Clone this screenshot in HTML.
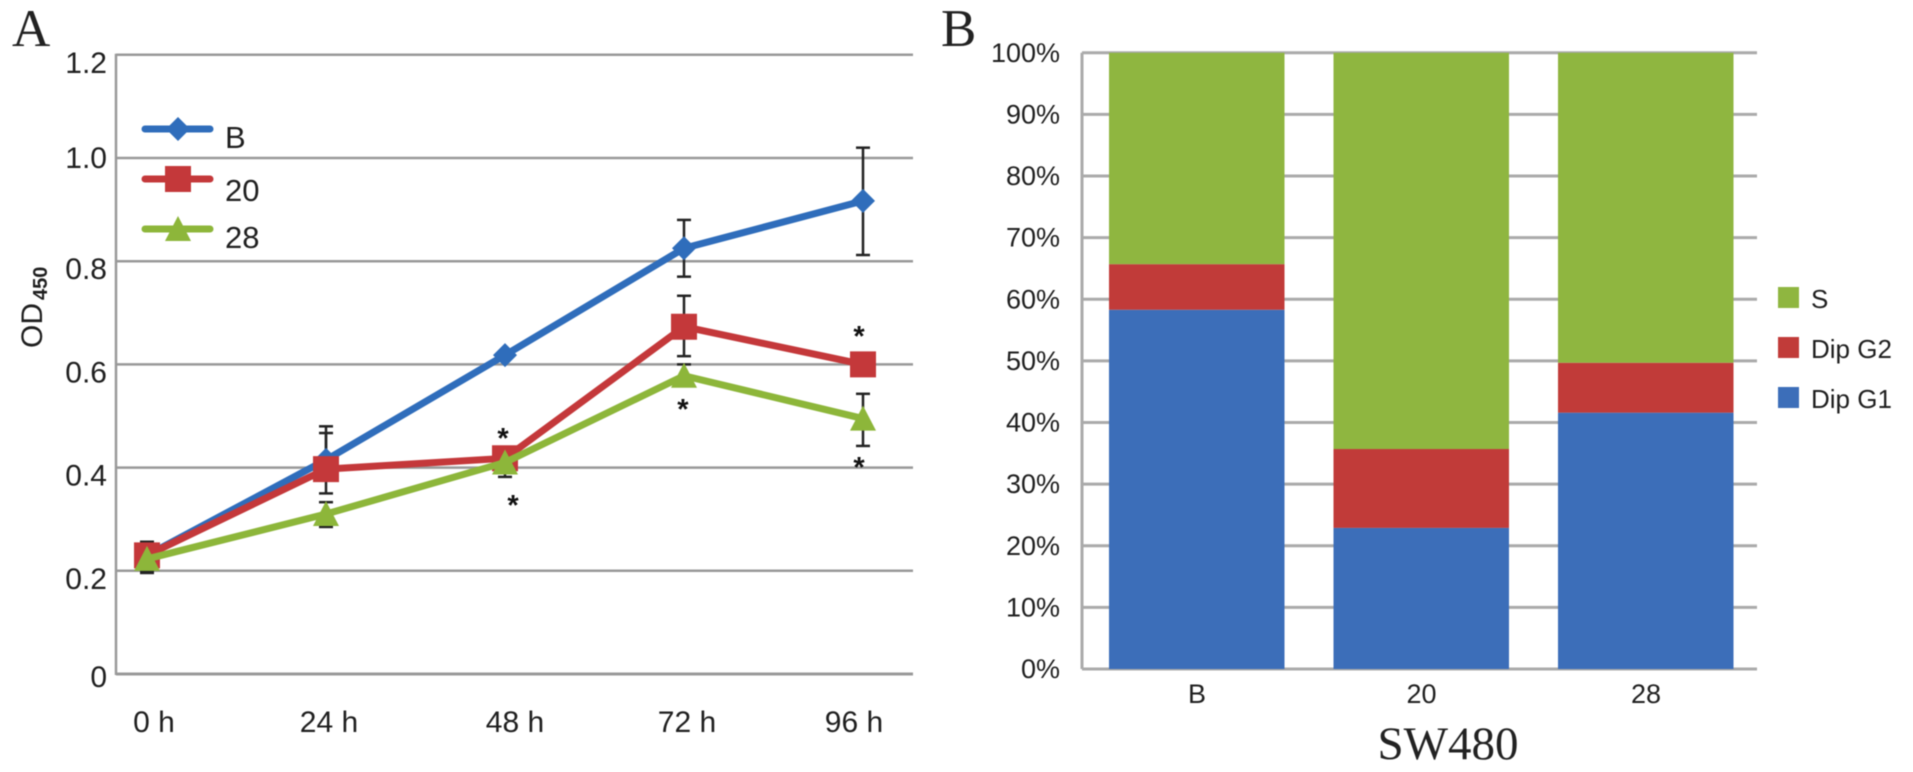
<!DOCTYPE html>
<html lang="en">
<head>
<meta charset="utf-8">
<title>OD450 growth curves and SW480 cell cycle distribution</title>
<style>
html,body{margin:0;padding:0;background:#fff;width:1913px;height:772px;overflow:hidden}
svg{display:block;filter:blur(0.5px)}
text{font-family:"Liberation Sans",sans-serif;fill:#1f1f1f}
.serif{font-family:"Liberation Serif",serif;fill:#222}
</style>
</head>
<body>
<svg id="figure" xmlns="http://www.w3.org/2000/svg" width="1913" height="772" viewBox="0 0 1913 772">
  <rect x="0" y="0" width="1913" height="772" fill="#fff"/>
  <text class="serif" x="12" y="46" font-size="53">A</text>
  <text class="serif" x="941" y="46" font-size="53">B</text>
  <g id="lineChart"></g>
  <g id="barChart"></g>
  <text transform="translate(42,348) rotate(-90)" font-size="30">OD</text>
  <text transform="translate(47,300) rotate(-90)" font-size="20" font-weight="bold">450</text>
  <text class="serif" x="1448" y="759" font-size="47" text-anchor="middle">SW480</text>
</svg>
<script>
// ---- Line chart data ----
var hours = ['0 h', '24 h', '48 h', '72 h', '96 h'];
var odTicks = [0, 0.2, 0.4, 0.6, 0.8, 1.0, 1.2];
var odTickLabels = ['0', '0.2', '0.4', '0.6', '0.8', '1.0', '1.2'];
var seriesNames = ['B', '20', '28'];
var seriesB = [0.23, 0.415, 0.618, 0.825, 0.917];
var series20 = [0.23, 0.397, 0.418, 0.673, 0.6];
var series28 = [0.223, 0.31, 0.41, 0.578, 0.495];
var errHighB = [0.256, 0.48, null, 0.88, 1.02];
var errLowB = [0.2, null, null, 0.77, 0.812];
var errHigh20 = [0.256, 0.467, null, 0.733, null];
var errLow20 = [0.196, 0.35, null, 0.616, null];
var errHigh28 = [0.256, 0.333, null, 0.6, 0.543];
var errLow28 = [0.196, 0.285, 0.382, null, 0.442];
var starHourIndex = [1.989, 2.045, 2.994, 3.978, 3.978];
var starValues = [0.469, 0.339, 0.525, 0.667, 0.413];

// ---- Stacked bar data ----
var groups = ['B', '20', '28'];
var dipG1 = [58.3, 22.9, 41.6];
var dipG2 = [7.4, 12.8, 8.1];
var sPhase = [34.3, 64.3, 50.3];
var percentTicks = [0, 10, 20, 30, 40, 50, 60, 70, 80, 90, 100];
var percentLabels = ['0%', '10%', '20%', '30%', '40%', '50%', '60%', '70%', '80%', '90%', '100%'];
var stackNames = ['Dip G1', 'Dip G2', 'S'];

var NS = 'http://www.w3.org/2000/svg';
var BLUE = '#2f6dbb', RED = '#c4383a', GREEN = '#8db63a';
var BAR_BLUE = '#3c6eb9', BAR_RED = '#c13b39', BAR_GREEN = '#8fb640';

function make(parent, tag, props, content) {
  var el = document.createElementNS(NS, tag);
  for (var k in props) { el.setAttribute(k, props[k]); }
  if (content !== undefined) { el.textContent = content; }
  parent.appendChild(el);
  return el;
}

// Axis functions
function xA(i) { return 147 + i * 179; }
function yA(v) { return 674 - v * 516; }
function xB(i) { return 1197 + i * 224.5; }
function yB(p) { return 669 - p * 6.162; }

function markerPoints(kind, cx, cy) {
  if (kind === 0) {
    return (cx - 12) + ',' + cy + ' ' + cx + ',' + (cy - 12) + ' ' + (cx + 12) + ',' + cy + ' ' + cx + ',' + (cy + 12);
  }
  if (kind === 1) {
    return (cx - 13) + ',' + (cy - 13) + ' ' + (cx + 13) + ',' + (cy - 13) + ' ' + (cx + 13) + ',' + (cy + 13) + ' ' + (cx - 13) + ',' + (cy + 13);
  }
  return cx + ',' + (cy - 13) + ' ' + (cx + 13) + ',' + (cy + 12) + ' ' + (cx - 13) + ',' + (cy + 12);
}

// ---- Draw line chart ----
var lc = document.getElementById('lineChart');

odTicks.forEach(function (t, i) {
  var g = make(lc, 'line', { x1: 116, x2: 913, y1: yA(t), y2: yA(t), stroke: '#999', 'stroke-width': t === 0 ? 3 : 2.5 });
  
  
  var nudge = t === 1 ? 10 : (t === 0 ? 13 : 18);
  var lab = make(lc, 'text', { x: 107, y: yA(t) + nudge, 'font-size': 30, 'text-anchor': 'end' }, odTickLabels[i]);
  
  
});

var yAxisA = make(lc, 'line', { x1: 116, x2: 116, y1: yA(1.2) - 1, y2: yA(0) + 1, stroke: '#999', 'stroke-width': 2.5 });



hours.forEach(function (h, i) {
  var lab = make(lc, 'text', { x: xA(i) + (i === 2 ? 10 : i === 4 ? -9 : i === 0 ? 7 : 3), y: 732, 'font-size': 30, 'text-anchor': 'middle' }, h);
  
  
});

function drawErrors(high, low, mid) {
  mid.forEach(function (m, i) {
    var x = xA(i);
    var top = high[i] === null ? m : high[i];
    var bot = low[i] === null ? m : low[i];
    var stem = make(lc, 'line', { x1: x, x2: x, y1: yA(top), y2: yA(bot), stroke: '#222', 'stroke-width': 2.5 });
    
    
    if (high[i] !== null) {
      var capT = make(lc, 'line', { x1: x - 7, x2: x + 7, y1: yA(top), y2: yA(top), stroke: '#222', 'stroke-width': 2.5 });
      
      
    }
    if (low[i] !== null) {
      var capB = make(lc, 'line', { x1: x - 7, x2: x + 7, y1: yA(bot), y2: yA(bot), stroke: '#222', 'stroke-width': 2.5 });
      
      
    }
  });
}
drawErrors(errHighB, errLowB, seriesB);
drawErrors(errHigh20, errLow20, series20);
drawErrors(errHigh28, errLow28, series28);

function drawSeries(values, color, kind, label) {
  var pts = values.map(function (v, i) { return xA(i) + ',' + yA(v); }).join(' ');
  var line = make(lc, 'polyline', { points: pts, fill: 'none', stroke: color, 'stroke-width': 7, 'stroke-linejoin': 'round' });
  
  
  values.forEach(function (v, i) {
    var m = make(lc, 'polygon', { points: markerPoints(kind, xA(i), yA(v)), fill: color });
    
    
  });
}
drawSeries(seriesB, BLUE, 0, 'b');
drawSeries(series20, RED, 1, '20');
drawSeries(series28, GREEN, 2, '28');

starValues.forEach(function (v, i) {
  var s = make(lc, 'text', { x: xA(starHourIndex[i]), y: yA(v) + 16, 'font-size': 29, 'font-weight': 'bold', 'text-anchor': 'middle', style: 'fill:#111' }, '*');
  
  
});

[BLUE, RED, GREEN].forEach(function (c, i) {
  var ly = 129 + i * 50;
  var ll = make(lc, 'line', { x1: 145, x2: 210, y1: ly, y2: ly, stroke: c, 'stroke-width': 7, 'stroke-linecap': 'round' });
  
  
  var lm = make(lc, 'polygon', { points: markerPoints(i, 178, ly), fill: c });
  
  
  var lt = make(lc, 'text', { x: 225, y: [148, 201, 248][i], 'font-size': 31 }, seriesNames[i]);
  
  
});

// ---- Draw stacked bars ----
var bc = document.getElementById('barChart');

percentTicks.forEach(function (p, i) {
  var g = make(bc, 'line', { x1: 1082, x2: 1757, y1: yB(p), y2: yB(p), stroke: '#aaa', 'stroke-width': 3 });
  
  
  var lab = make(bc, 'text', { x: 1060, y: yB(p) + 9, 'font-size': 27, 'text-anchor': 'end' }, percentLabels[i]);
  
  
});

var yAxisB = make(bc, 'line', { x1: 1082, x2: 1082, y1: yB(100), y2: yB(0), stroke: '#aaa', 'stroke-width': 3 });



groups.forEach(function (g, i) {
  var base = 0;
  [dipG1[i], dipG2[i], sPhase[i]].forEach(function (v, j) {
    var r = make(bc, 'rect', {
      x: xB(i) - 88, width: 175.5,
      y: yB(base + v), height: yB(base) - yB(base + v),
      fill: [BAR_BLUE, BAR_RED, BAR_GREEN][j]
    });
    
    
    base += v;
  });
  var lab = make(bc, 'text', { x: xB(i), y: 703, 'font-size': 27, 'text-anchor': 'middle' }, g);
  
  
});

[2, 1, 0].forEach(function (j, row) {
  var sw = make(bc, 'rect', { x: 1778, y: 287 + row * 50, width: 21, height: 21, fill: [BAR_BLUE, BAR_RED, BAR_GREEN][j] });
  
  
  var t = make(bc, 'text', { x: 1811, y: 308 + row * 50, 'font-size': 26 }, stackNames[j]);
  
  
});
</script>
</body>
</html>
